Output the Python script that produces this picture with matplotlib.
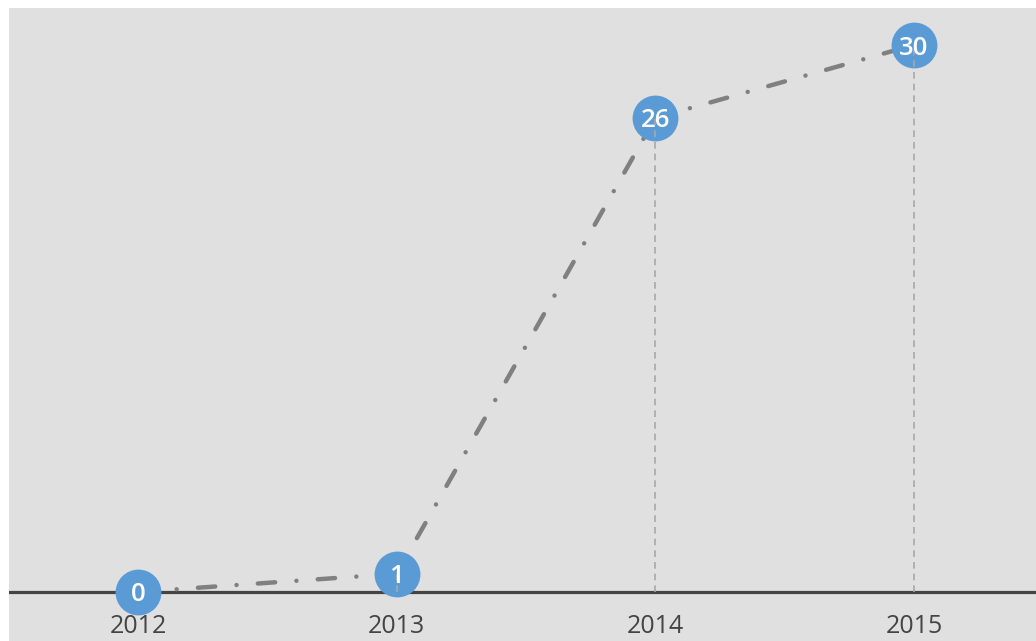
import matplotlib
matplotlib.use("Agg")
import matplotlib.pyplot as plt

years = [2012, 2013, 2014, 2015]
values = [0, 1, 26, 30]
labels = ["2012", "2013", "2014", "2015"]

fig = plt.figure(figsize=(10.36, 6.41), dpi=100)
fig.patch.set_facecolor("white")
ax = fig.add_axes([9/1036, 0, 1027/1036, 633/641])
ax.set_facecolor("#e0e0e0")
for s in ax.spines.values():
    s.set_visible(False)
ax.set_xticks([])
ax.set_yticks([])
ax.set_xlim(2011.501, 2015.472)
ax.set_ylim(-2.69, 32.03)

# baseline
ax.axhline(0, color="#444444", lw=2.3, zorder=2)

# vertical dashed guides
for x, v in zip(years, values):
    ax.plot([x, x], [0, v], color="#a8a8a8", lw=1.2, linestyle=(0, (4, 3)), zorder=4)

# main dash-dot line
ax.plot(years, values, color="#808080", lw=3.2, solid_capstyle="round",
        dash_capstyle="round", linestyle=(0, (3.9, 4.8, 0.01, 4.8)), zorder=3)

# markers
ax.plot(years, values, "o", ms=33, color="#5b9bd5", mec="none", zorder=3.5)

for x, v in zip(years, values):
    ax.text(x, v, str(v), color="white", fontsize=18.5, fontweight="semibold",
            family="Open Sans", ha="center", va="center_baseline", zorder=5)

for x, lab in zip(years, labels):
    ax.text(x, -1.9, lab, color="#444444", fontsize=18, family="Open Sans",
            ha="center", va="center", zorder=5)

fig.savefig("out.png", dpi=100)
